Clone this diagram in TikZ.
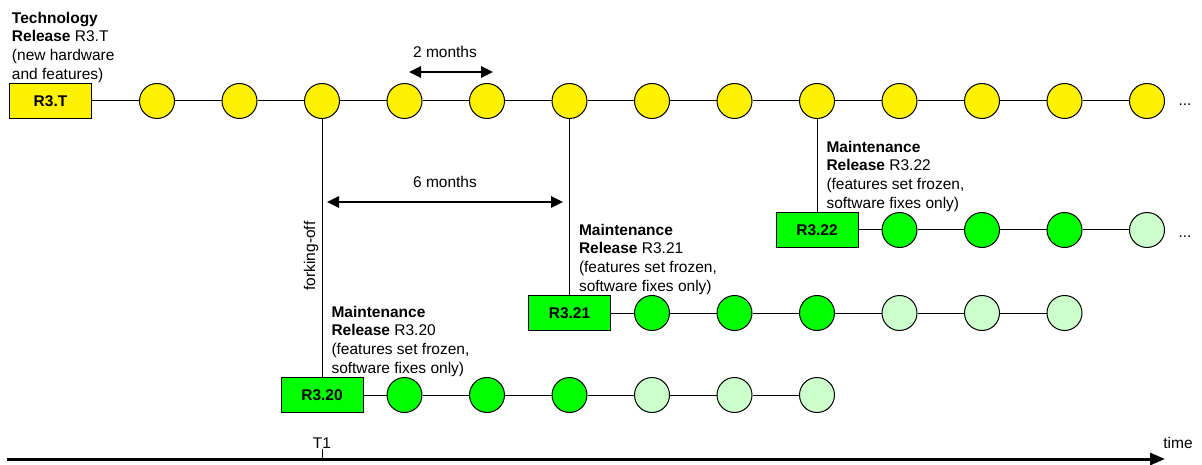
\documentclass[tikz,border=0pt]{standalone}
\usepackage{fontspec}
\setmainfont{Liberation Sans}
\usetikzlibrary{positioning,arrows.meta}
\definecolor{palegreen}{HTML}{CCFFCC}
\def\colsep{82.5pt}

\begin{document}
\begin{tikzpicture}[x=1pt,y=-1pt,line width=1pt,node distance=\colsep,on grid,
    font=\fontsize{15.5}{18.7}\selectfont]
    \tikzstyle{techrel}=[rectangle,draw=black,fill=yellow,minimum width=82pt,minimum height=35pt,inner sep=0pt,font=\fontsize{15.5}{18.7}\selectfont\bfseries]
    \tikzstyle{mainrel}=[techrel,fill=green]
    \tikzstyle{techpt}=[circle,draw=black,fill=yellow,minimum size=35pt,inner sep=0pt]
    \tikzstyle{fixpt}=[techpt,fill=green]
    \tikzstyle{openpt}=[techpt,fill=palegreen]
    \tikzstyle{note}=[align=left,inner sep=0pt,anchor=south west]
    \tikzstyle{span}=[{Triangle[length=12pt,width=11pt]}-{Triangle[length=12pt,width=11pt]},line width=2.5pt]

    \useasboundingbox (0,0) rectangle (1202,465);

    % technology line
    \node[techrel] (t) at (50.5,101) {R3.T};
    \node[techpt] (c1) at (157,101) {};
    \node[techpt,right=of c1] (c2) {};
    \node[techpt,right=of c2] (c3) {};
    \node[techpt,right=of c3] (c4) {};
    \node[techpt,right=of c4] (c5) {};
    \node[techpt,right=of c5] (c6) {};
    \node[techpt,right=of c6] (c7) {};
    \node[techpt,right=of c7] (c8) {};
    \node[techpt,right=of c8] (c9) {};
    \node[techpt,right=of c9] (c10) {};
    \node[techpt,right=of c10] (c11) {};
    \node[techpt,right=of c11] (c12) {};
    \node[techpt,right=of c12] (c13) {};
    \node[anchor=base] (more1) at (1185,106) {...};
    \draw (t) -- (c1) -- (c2) -- (c3) -- (c4) -- (c5) -- (c6) -- (c7) -- (c8) -- (c9) -- (c10) -- (c11) -- (c12) -- (c13);
    \node[note] (nt) at ([xshift=2.5pt]t.north west) {\textbf{Technology}\\\textbf{Release} R3.T\\(new hardware\\and features)};

    % maintenance R3.20
    \node[mainrel,below=294pt of c3] (r20) {R3.20};
    \node[fixpt,right=of r20] (a1) {};
    \node[fixpt,right=of a1] (a2) {};
    \node[fixpt,right=of a2] (a3) {};
    \node[openpt,right=of a3] (a4) {};
    \node[openpt,right=of a4] (a5) {};
    \node[openpt,right=of a5] (a6) {};
    \draw (c3) -- (r20);
    \draw (r20) -- (a1) -- (a2) -- (a3) -- (a4) -- (a5) -- (a6);
    \node[note] (n20) at ([xshift=9pt]r20.north) {\textbf{Maintenance}\\\textbf{Release} R3.20\\(features set frozen,\\software fixes only)};
    \node[rotate=90,anchor=base,inner sep=0pt] (fork) at (315,256) {forking-off};

    % maintenance R3.21
    \node[mainrel,below=212pt of c6] (r21) {R3.21};
    \node[fixpt,right=of r21] (b1) {};
    \node[fixpt,right=of b1] (b2) {};
    \node[fixpt,right=of b2] (b3) {};
    \node[openpt,right=of b3] (b4) {};
    \node[openpt,right=of b4] (b5) {};
    \node[openpt,right=of b5] (b6) {};
    \draw (c6) -- (r21);
    \draw (r21) -- (b1) -- (b2) -- (b3) -- (b4) -- (b5) -- (b6);
    \node[note] (n21) at ([xshift=9pt]r21.north) {\textbf{Maintenance}\\\textbf{Release} R3.21\\(features set frozen,\\software fixes only)};

    % maintenance R3.22
    \node[mainrel,below=129pt of c9] (r22) {R3.22};
    \node[fixpt,right=of r22] (d1) {};
    \node[fixpt,right=of d1] (d2) {};
    \node[fixpt,right=of d2] (d3) {};
    \node[openpt,right=of d3] (d4) {};
    \node[anchor=base] (more2) at (1185,237) {...};
    \draw (c9) -- (r22);
    \draw (r22) -- (d1) -- (d2) -- (d3) -- (d4);
    \node[note] (n22) at ([xshift=9pt]r22.north) {\textbf{Maintenance}\\\textbf{Release} R3.22\\(features set frozen,\\software fixes only)};

    % durations
    \coordinate (two0) at (409,72);
    \coordinate (two1) at (493,72);
    \draw[span] (two0) -- (two1) node[midway,above=13pt,xshift=-6pt,inner sep=0pt] (lbl2) {2 months};
    \coordinate (six0) at (327,202);
    \coordinate (six1) at (563,202);
    \draw[span] (six0) -- (six1) node[midway,above=13pt,inner sep=0pt] (lbl6) {6 months};

    % time axis
    \coordinate (ax0) at (7,459);
    \coordinate (ax1) at (1165,459);
    \draw[line width=3pt,-{Triangle[length=15pt,width=12pt]}] (ax0) -- (ax1);
    \node[anchor=base,inner sep=0pt] (T1) at (322,448) {T1};
    \draw (T1.south) -- (T1.south |- ax0);
    \node[anchor=base,inner sep=0pt] (tlbl) at (1178,448) {time};
\end{tikzpicture}
\end{document}
